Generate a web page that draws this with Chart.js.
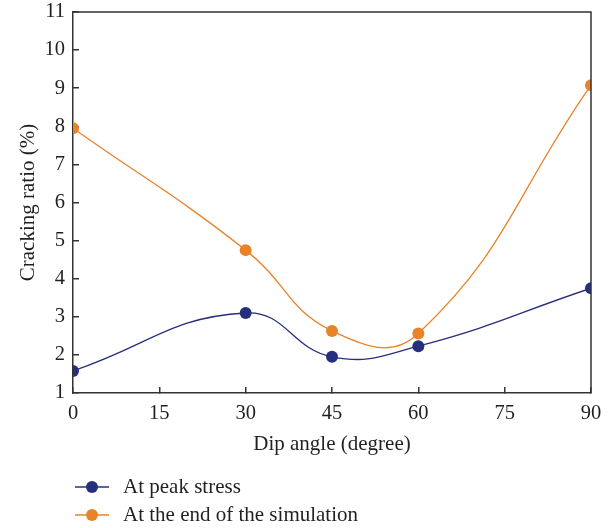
<!DOCTYPE html>
<html>
<head>
<meta charset="utf-8">
<script src="https://cdn.jsdelivr.net/npm/chart.js@4"></script>
<style>
  html, body { margin: 0; padding: 0; background: #fff; }
  #wrap { width: 611px; height: 528px; }
</style>
</head>
<body>
<div id="wrap"><canvas id="crackChart" width="611" height="528"></canvas></div>
<script>
const angles = [0, 30, 45, 60, 90];
const peakStress = [1.58, 3.10, 1.95, 2.23, 3.75];
const endOfSimulation = [7.95, 4.75, 2.63, 2.56, 9.08];
const xTicks = [0, 15, 30, 45, 60, 75, 90];

const seriesNames = ["At peak stress", "At the end of the simulation"];
const blue = "#262f7c";
const orange = "#e8832a";
const axisColor = "#333333";
const textColor = "#231f20";
const fontFamily = "'Liberation Serif', 'Times New Roman', serif";

function toPoints(ys) {
  return angles.map((a, i) => ({ x: a, y: ys[i] }));
}

// closes the box on the top and right sides of the plot
const frame = {
  id: "frame",
  afterDraw(chart) {
    const { ctx, chartArea } = chart;
    ctx.save();
    ctx.strokeStyle = axisColor;
    ctx.lineWidth = 1.5;
    ctx.beginPath();
    ctx.moveTo(chartArea.left, chartArea.top);
    ctx.lineTo(chartArea.right, chartArea.top);
    ctx.lineTo(chartArea.right, chartArea.bottom);
    ctx.stroke();
    ctx.restore();
  }
};

// stacked legend under the x axis title, line + dot for each series
const stackedLegend = {
  id: "stackedLegend",
  afterDraw(chart) {
    const { ctx } = chart;
    const x0 = 75, y0 = 487, rowGap = 28;
    ctx.save();
    chart.data.datasets.forEach((ds, i) => {
      const y = y0 + i * rowGap;
      ctx.strokeStyle = ds.borderColor;
      ctx.lineWidth = 1.3;
      ctx.beginPath();
      ctx.moveTo(x0, y);
      ctx.lineTo(x0 + 34, y);
      ctx.stroke();
      ctx.fillStyle = ds.pointBackgroundColor;
      ctx.beginPath();
      ctx.arc(x0 + 17, y, 6, 0, Math.PI * 2);
      ctx.fill();
      ctx.fillStyle = textColor;
      ctx.font = "21px " + fontFamily;
      ctx.textBaseline = "middle";
      ctx.fillText(ds.label, x0 + 48, y);
    });
    ctx.restore();
  }
};

const ctx = document.getElementById("crackChart").getContext("2d");
new Chart(ctx, {
  type: "line",
  data: {
    datasets: [
      {
        label: seriesNames[0],
        data: toPoints(peakStress),
        borderColor: blue,
        backgroundColor: blue,
        pointBackgroundColor: blue,
        pointBorderWidth: 0,
        pointRadius: 6,
        borderWidth: 1.3,
        tension: 0.45,
        fill: false
      },
      {
        label: seriesNames[1],
        data: toPoints(endOfSimulation),
        borderColor: orange,
        backgroundColor: orange,
        pointBackgroundColor: orange,
        pointBorderWidth: 0,
        pointRadius: 6,
        borderWidth: 1.3,
        tension: 0.45,
        fill: false
      }
    ]
  },
  options: {
    responsive: false,
    animation: false,
    devicePixelRatio: 1,
    layout: { padding: { left: 0, top: 12, right: 20, bottom: 67 } },
    plugins: {
      legend: { display: false },
      tooltip: { enabled: false }
    },
    scales: {
      x: {
        type: "linear",
        min: 0,
        max: 90,
        afterBuildTicks(scale) {
          scale.ticks = xTicks.map(v => ({ value: v }));
        },
        afterFit(scale) {
          scale.height = 68;
          scale.paddingLeft = 0;
          scale.paddingRight = 0;
        },
        grid: {
          drawOnChartArea: false,
          tickLength: -6,
          color: axisColor,
          lineWidth: 1.5
        },
        border: { color: axisColor, width: 1.5 },
        ticks: {
          padding: 14,
          color: textColor,
          font: { family: fontFamily, size: 20.5 }
        },
        title: {
          display: true,
          text: "Dip angle (degree)",
          color: textColor,
          padding: { top: 9 },
          font: { family: fontFamily, size: 21 }
        }
      },
      y: {
        min: 1,
        max: 11,
        ticks: {
          stepSize: 1,
          padding: 14,
          color: textColor,
          font: { family: fontFamily, size: 20.5 }
        },
        afterFit(scale) {
          scale.width = 73;
          scale.paddingTop = 0;
          scale.paddingBottom = 0;
        },
        grid: {
          drawOnChartArea: false,
          tickLength: -6,
          color: axisColor,
          lineWidth: 1.5
        },
        border: { color: axisColor, width: 1.5 },
        title: {
          display: true,
          text: "Cracking ratio (%)",
          color: textColor,
          padding: { top: 16, bottom: 0 },
          font: { family: fontFamily, size: 21 }
        }
      }
    }
  },
  plugins: [frame, stackedLegend]
});
</script>
</body>
</html>
